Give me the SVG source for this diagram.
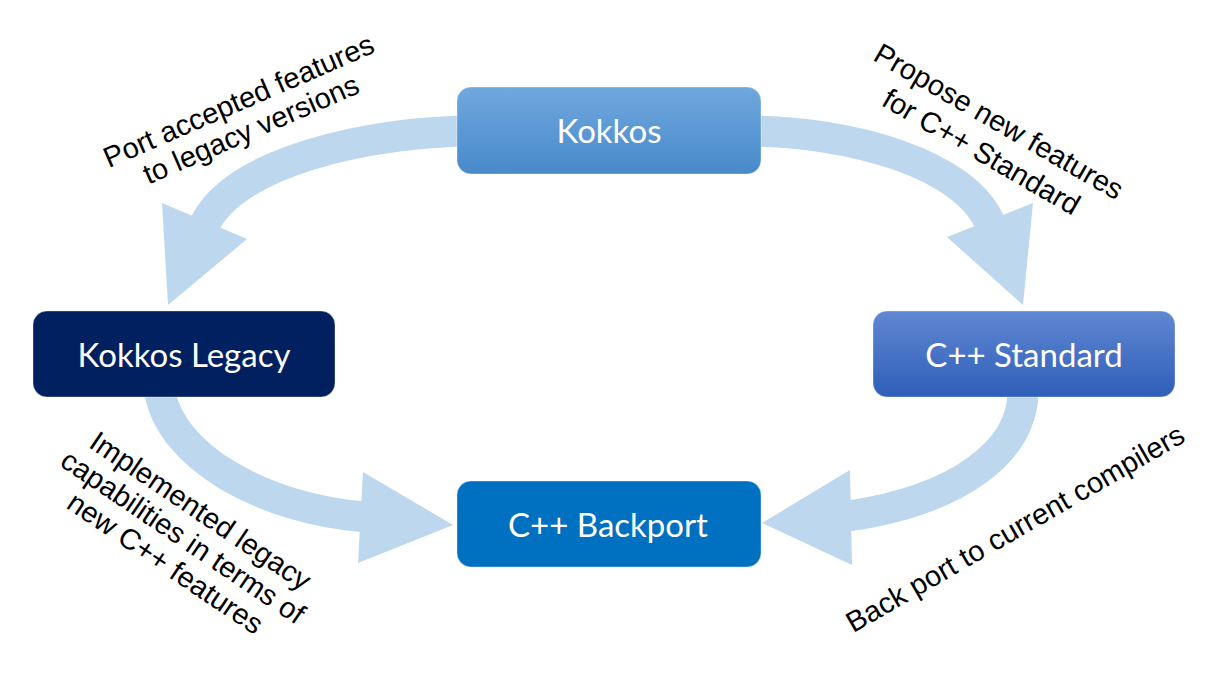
<svg xmlns="http://www.w3.org/2000/svg" width="1220" height="685" viewBox="0 0 1220 685">
  <defs>
    <linearGradient id="gKokkos" x1="0" y1="0" x2="0" y2="1">
      <stop offset="0" stop-color="#70a8de"/>
      <stop offset="1" stop-color="#4889cb"/>
    </linearGradient>
    <linearGradient id="gStd" x1="0" y1="0" x2="0" y2="1">
      <stop offset="0" stop-color="#6087d3"/>
      <stop offset="1" stop-color="#2f5eb8"/>
    </linearGradient>
    <style>
      .shaft { fill: none; stroke: #bdd7ee; stroke-width: 31; stroke-linecap: butt; }
      .head { fill: #bdd7ee; }
      .box { stroke: #ffffff; stroke-opacity: 0.35; stroke-width: 1; }
      .ntext { font-family: Lato, "Open Sans", sans-serif; font-size: 33px; fill: #ffffff; text-anchor: middle; }
      .label { font-family: "Liberation Sans", Arial, sans-serif; font-size: 29px; fill: #000000; text-anchor: middle; }
    </style>
  </defs>
  <rect width="1220" height="685" fill="#ffffff"/>

  <g id="connectors">
    <path class="shaft" d="M475,131 C370,131 232,162 204,226"/>
    <polygon class="head" points="162,203 168,305 247,239"/>
    <path class="shaft" d="M745,131 C850,131 968,164 991,226"/>
    <polygon class="head" points="1033,203 1023,305 947,237"/>
    <path class="shaft" d="M160,392 C170,455 261,509 366,517"/>
    <polygon class="head" points="363,472 453,525 358,563"/>
    <path class="shaft" d="M1023,392 C1023,450 960,500 848,516"/>
    <polygon class="head" points="850,470 762,523 852,565"/>
  </g>

  <g id="node-kokkos">
    <rect class="box" x="457" y="87" width="304" height="87" rx="14" fill="url(#gKokkos)"/>
    <text class="ntext" x="609" y="143">Kokkos</text>
  </g>
  <g id="node-kokkos-legacy">
    <rect class="box" x="33" y="311" width="302" height="86" rx="14" fill="#002060"/>
    <text class="ntext" x="184" y="367">Kokkos Legacy</text>
  </g>
  <g id="node-cpp-standard">
    <rect class="box" x="873" y="311" width="302" height="86" rx="14" fill="url(#gStd)"/>
    <text class="ntext" x="1024" y="367">C++ Standard</text>
  </g>
  <g id="node-cpp-backport">
    <rect class="box" x="457" y="481" width="304" height="86" rx="14" fill="#0070c0"/>
    <text class="ntext" x="608" y="537">C++ Backport</text>
  </g>

  <g id="labels">
    <text class="label" transform="translate(242.5,110) rotate(-23.5)"><tspan x="0" y="0">Port accepted features</tspan><tspan x="0" y="31">to legacy versions</tspan></text>
    <text class="label" transform="translate(994,130) rotate(30)"><tspan x="0" y="0">Propose new features</tspan><tspan x="0" y="35">for C++ Standard</tspan></text>
    <text class="label" transform="translate(195,519) rotate(34)"><tspan x="0" y="0">Implemented legacy</tspan><tspan x="0" y="31.5">capabilities in terms of</tspan><tspan x="0" y="63">new C++ features</tspan></text>
    <text class="label" transform="translate(1020,537) rotate(-30)">Back port to current compilers</text>
  </g>
</svg>
